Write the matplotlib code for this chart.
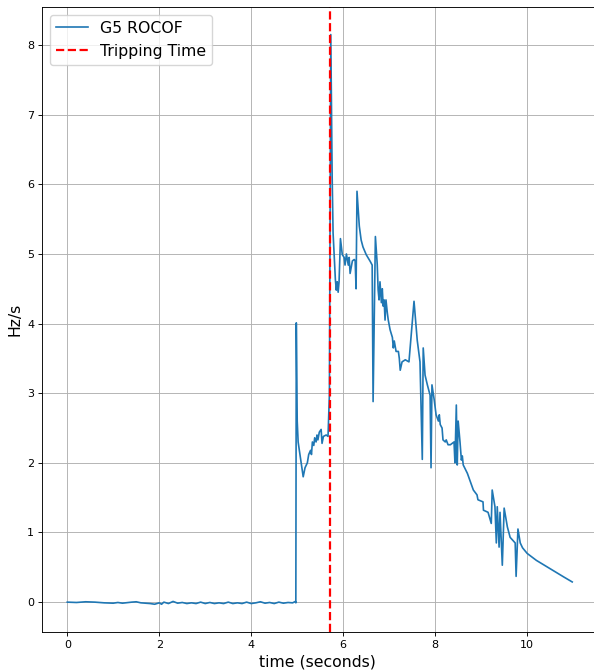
import numpy as np
import matplotlib.pyplot as plt

# Generator G5 rate of change of frequency after the disturbance
time_s = [
    # pre-fault
    0.0, 0.2, 0.4, 0.6, 0.8, 1.0, 1.1, 1.2, 1.4, 1.5, 1.6, 1.8, 1.9, 2.0, 2.05,
    2.1, 2.2, 2.3, 2.4, 2.5, 2.6, 2.7, 2.8, 2.9, 3.0, 3.1, 3.2, 3.3, 3.4, 3.5,
    3.6, 3.7, 3.8, 3.9, 4.0, 4.1, 4.2, 4.3, 4.4, 4.5, 4.6, 4.7, 4.8, 4.9, 4.96,
    4.97,
    # fault
    4.98, 5.0, 5.02, 5.13, 5.17, 5.22, 5.25, 5.29, 5.31, 5.33, 5.36, 5.38, 5.41,
    5.43, 5.45, 5.48, 5.52, 5.54, 5.57, 5.63, 5.67, 5.70,
    # trip and recovery
    5.73, 5.76, 5.78, 5.83, 5.85, 5.87, 5.89, 5.91, 5.94, 5.98, 6.02, 6.04,
    6.07, 6.11, 6.13, 6.15, 6.20, 6.24, 6.26, 6.28, 6.30, 6.35, 6.39, 6.43, 6.50,
    6.59, 6.63, 6.65, 6.70, 6.74, 6.76, 6.78, 6.80, 6.83, 6.85, 6.87, 6.89, 6.91,
    6.93, 6.96, 6.98, 7.02, 7.07, 7.09, 7.11, 7.15, 7.20, 7.22, 7.24, 7.28, 7.35,
    7.43, 7.54, 7.61, 7.67, 7.72, 7.74, 7.78, 7.83, 7.89, 7.91, 7.93, 7.98, 8.02,
    8.07, 8.09, 8.11, 8.15, 8.17, 8.22, 8.24, 8.28, 8.33, 8.41, 8.43, 8.46, 8.48,
    8.50, 8.54, 8.57, 8.59, 8.61, 8.70, 8.83, 8.91, 8.93, 9.04, 9.05, 9.15, 9.22,
    9.24, 9.30, 9.33, 9.35, 9.39, 9.41, 9.46, 9.50, 9.57, 9.63, 9.74, 9.76, 9.80,
    9.85, 9.90, 10.0, 10.2, 10.4, 10.6, 10.8, 10.98,
]
rocof = [
    # pre-fault
    0.0, -0.005, 0.005, 0.0, -0.01, -0.015, -0.005, -0.015, 0.0, 0.005, -0.01,
    -0.02, -0.03, -0.01, -0.03, 0.0, -0.02, 0.01, -0.015, -0.005, -0.02, -0.01,
    -0.02, 0.0, -0.02, -0.005, -0.02, -0.01, -0.02, 0.0, -0.02, -0.01, -0.02,
    0.0, -0.02, -0.01, 0.005, -0.015, -0.005, -0.02, 0.0, -0.015, -0.005, -0.01,
    0.01, -0.01,
    # fault
    4.01, 2.6, 2.3, 1.8, 1.93, 2.0, 2.12, 2.18, 2.12, 2.3, 2.25, 2.36, 2.3,
    2.4, 2.33, 2.44, 2.48, 2.28, 2.38, 2.4, 2.38, 2.98,
    # trip and recovery
    8.15, 6.1, 5.3, 4.63, 4.48, 4.6, 4.45, 4.6, 5.22, 4.99, 4.95, 4.84,
    5.0, 4.84, 4.95, 4.72, 4.9, 4.92, 4.9, 4.5, 5.9, 5.4, 5.2, 5.1, 4.99,
    4.89, 4.84, 2.88, 5.25, 4.85, 4.48, 4.34, 4.6, 4.3, 4.5, 4.25, 4.34, 4.05,
    4.34, 4.15, 4.05, 3.91, 3.8, 3.65, 3.75, 3.6, 3.6, 3.5, 3.33, 3.45, 3.48,
    3.45, 4.32, 3.76, 3.45, 2.05, 3.65, 3.26, 3.12, 2.97, 1.93, 3.12, 2.9, 2.69,
    2.6, 2.69, 2.55, 2.5, 2.33, 2.3, 2.33, 2.26, 2.26, 2.3, 2.0, 2.83, 1.97,
    2.6, 2.3, 2.04, 2.1, 1.97, 1.85, 1.61, 1.54, 1.47, 1.44, 1.32, 1.29, 1.13,
    1.61, 1.37, 0.85, 1.37, 0.79, 1.29, 0.53, 1.35, 1.08, 0.93, 0.85, 0.37, 1.05,
    0.85, 0.78, 0.70, 0.60, 0.52, 0.44, 0.36, 0.29,
]
tripping_time = 5.72

fig = plt.figure(figsize=(5.94, 6.71), dpi=100)
ax = fig.add_axes([0.0707, 0.058, 0.929, 0.932])

ax.plot(time_s, rocof, color='tab:blue', linewidth=1.2, label='G5 ROCOF')
ax.axvline(x=tripping_time, color='red', linestyle='--', linewidth=1.6, label='Tripping Time')

ax.set_xlim(-0.55, 11.45)
ax.set_ylim(-0.43, 8.55)
ax.set_xticks(np.arange(0, 11, 2))
ax.tick_params(labelsize=8, length=2.8, width=0.65, pad=2.8)
for spine in ax.spines.values():
    spine.set_linewidth(0.65)
ax.set_xlabel('time (seconds)', fontsize=11.3, labelpad=3)
ax.set_ylabel('Hz/s', fontsize=11.3, labelpad=3)
ax.grid(True, linewidth=0.65)
ax.legend(loc='upper left', fontsize=11.3)

plt.savefig('out.png', dpi=100)
plt.close()
